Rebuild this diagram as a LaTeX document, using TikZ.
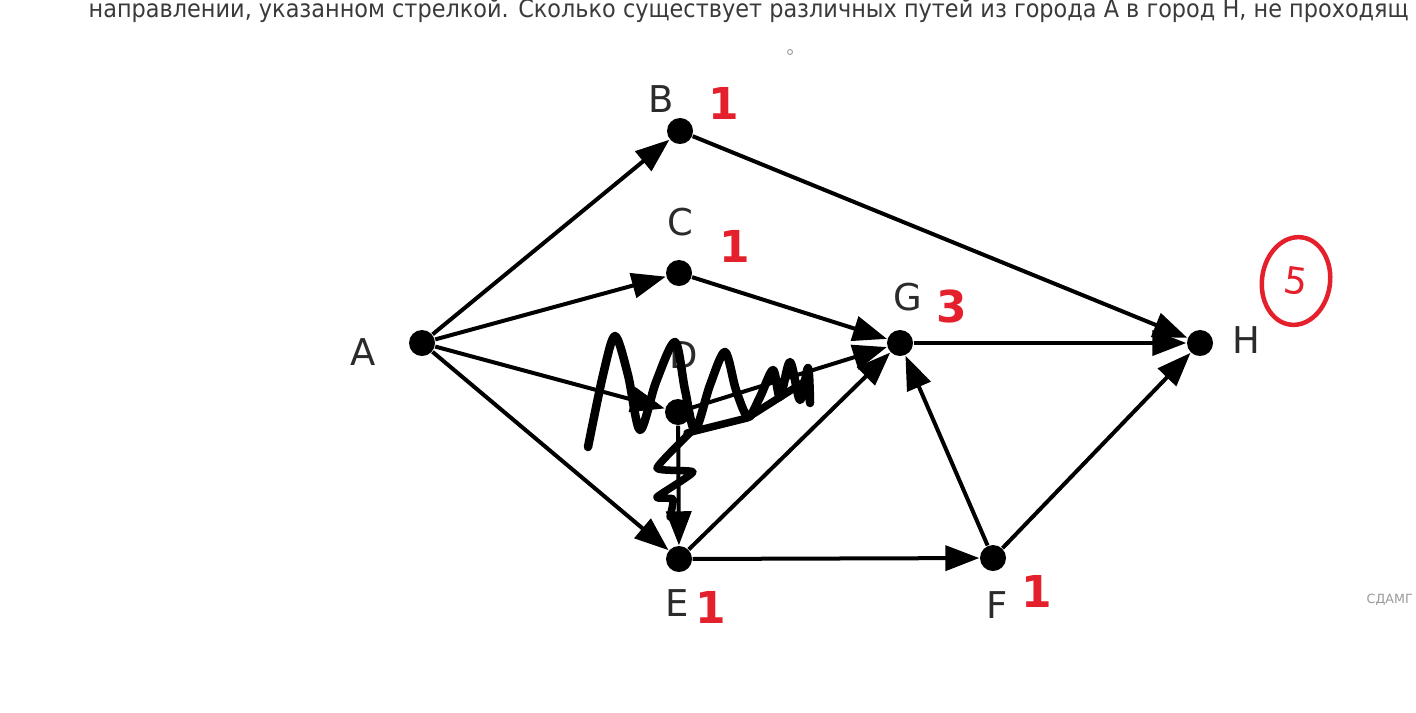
\documentclass[tikz,border=0pt]{standalone}
\usepackage{fontspec}
\usepackage{graphicx}
\setmainfont{DejaVu Sans}
\usetikzlibrary{arrows.meta,shapes.geometric}
\definecolor{penred}{HTML}{E3202B}
\definecolor{labelgray}{HTML}{2B2B2B}
\definecolor{textgray}{HTML}{3A3A3A}
\tikzset{
  city/.style={circle, fill=black, inner sep=0pt, minimum size=0.26cm},
  citylabel/.style={text=labelgray, inner sep=0pt, font=\fontsize{10.5}{12}\selectfont},
  road/.style={line width=0.04cm, -{Triangle[length=0.34cm,width=0.25cm]}},
  pencount/.style={text=penred, inner sep=0pt, font=\fontsize{12.5}{14}\selectfont\bfseries},
}

\begin{document}
\begin{tikzpicture}[x=0.01cm, y=-0.01cm]
    \useasboundingbox (0,0) rectangle (1416,712);
    \clip (0,0) rectangle (1416,712);
    % task text, cut at the top and on the right
    \node[anchor=base west, inner sep=0pt, text=textgray, font=\fontsize{7}{8}\selectfont] (intro) at (88,18)
      {\scalebox{0.91}[1]{направлении, указанном стрелкой. Сколько существует различных путей из города A в город H, не проходящ}};
    \node[circle, draw=black!35, line width=0.3pt, inner sep=0pt, minimum size=0.05cm] (speck) at (790,52) {};
    % cities
    \node[city] (A) at (422,343) {};
    \node[city] (B) at (680,131) {};
    \node[city] (C) at (679,273) {};
    \node[city] (D) at (678,412) {};
    \node[city] (E) at (679,559) {};
    \node[city] (F) at (993,558) {};
    \node[city] (G) at (900,343) {};
    \node[city] (H) at (1200,343) {};
    \node[citylabel] (la) at (363,352) {A};
    \node[citylabel] (lb) at (661,99) {B};
    \node[citylabel] (lc) at (680,222) {C};
    \node[citylabel] (ld) at (684,355) {D};
    \node[citylabel] (le) at (677,603) {E};
    \node[citylabel] (lf) at (997,605) {F};
    \node[citylabel] (lg) at (908,297) {G};
    \node[citylabel] (lh) at (1246,340) {H};
    % roads
    \draw[road] (A) -- (B);
    \draw[road] (A) -- (C);
    \draw[road] (A) -- (D);
    \draw[road] (A) -- (E);
    \draw[road] (B) -- (H);
    \draw[road] (C) -- (G);
    \draw[road] (D) -- (G);
    \draw[road] (D) -- (E);
    \draw[road] (E) -- (G);
    \draw[road] (E) -- (F);
    \draw[road] (F) -- (G);
    \draw[road] (F) -- (H);
    \draw[road] (G) -- (H);
    % scribble over D
    \draw[line width=0.085cm, line cap=round, line join=round] plot[smooth, tension=0.5] coordinates
      {(588,447) (603,375) (615,336) (628,375) (640,430) (656,382) (675,342) (685,390) (695,430)
       (710,385) (725,352) (736,390) (748,417) (760,397) (773,370) (780,397) (790,362) (800,400)
       (808,368) (810,403)};
    \draw[line width=0.075cm, line cap=round, line join=round]
      (687,433) -- (747,418) -- (807,380);
    \draw[line width=0.075cm, line cap=round, line join=round] plot[smooth, tension=0.3] coordinates
      {(693,430) (657,468) (693,472) (657,497) (673,499) (670,517)};
    % red counts
    \node[pencount] (nb) at (724,103) {1};
    \node[pencount] (nc) at (735,246) {1};
    \node[pencount] (ne) at (711,607) {1};
    \node[pencount] (nf) at (1037,591) {1};
    \node[pencount] (ng) at (952,306) {3};
    \node[pencount, font=\fontsize{10.5}{12}\selectfont, draw=penred, line width=0.045cm, ellipse, rotate=-8,
          minimum width=0.68cm, minimum height=0.88cm] (nh) at (1296,281) {5};
    % watermark
    \node[anchor=west, inner sep=0pt, text=black!40, font=\fontsize{3.6}{4}\selectfont] (wm) at (1366,600) {СДАМГ};
\end{tikzpicture}
\end{document}
